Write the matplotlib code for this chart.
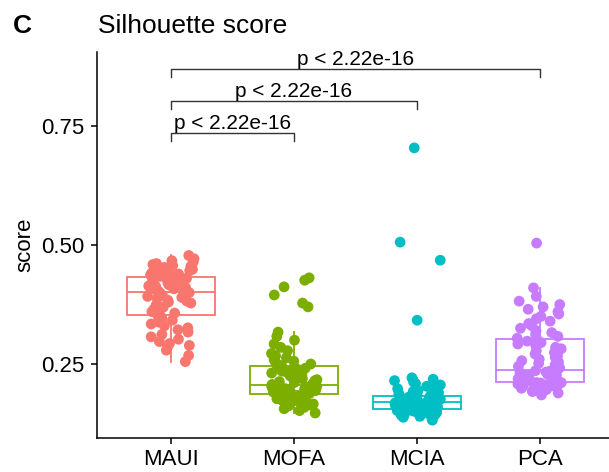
import numpy as np
import matplotlib
matplotlib.use("Agg")
import matplotlib.pyplot as plt

plt.rcParams['font.family'] = ['Liberation Sans', 'DejaVu Sans']

# groups and colours (ggplot default hue palette)
methods = ['MAUI', 'MOFA', 'MCIA', 'PCA']
colors = ['#F8766D', '#7CAE00', '#00BFC4', '#C77CFF']

# silhouette scores
maui = [0.255, 0.268, 0.279, 0.285, 0.289, 0.293, 0.297, 0.302, 0.307, 0.312,
        0.317, 0.322, 0.326, 0.330, 0.334, 0.338, 0.342, 0.345, 0.348, 0.351,
        0.354, 0.357, 0.360, 0.363, 0.366, 0.369, 0.372, 0.375, 0.378, 0.380,
        0.382, 0.384, 0.386, 0.388, 0.390, 0.392, 0.394, 0.396, 0.398, 0.400,
        0.402, 0.404, 0.405, 0.407, 0.408, 0.410, 0.411, 0.413, 0.414, 0.416,
        0.417, 0.419, 0.420, 0.422, 0.423, 0.425, 0.426, 0.428, 0.430, 0.432,
        0.434, 0.436, 0.437, 0.439, 0.441, 0.442, 0.444, 0.446, 0.447, 0.449,
        0.451, 0.453, 0.455, 0.457, 0.459, 0.461, 0.464, 0.467, 0.471, 0.478]
mofa = [0.147, 0.152, 0.156, 0.159, 0.162, 0.164, 0.166, 0.168, 0.170, 0.172,
        0.174, 0.175, 0.177, 0.178, 0.180, 0.181, 0.182, 0.184, 0.185, 0.186,
        0.188, 0.189, 0.190, 0.191, 0.192, 0.193, 0.194, 0.195, 0.196, 0.197,
        0.198, 0.199, 0.200, 0.201, 0.201, 0.202, 0.203, 0.204, 0.204, 0.205,
        0.207, 0.209, 0.211, 0.213, 0.215, 0.217, 0.219, 0.221, 0.223, 0.225,
        0.227, 0.229, 0.231, 0.233, 0.235, 0.237, 0.239, 0.241, 0.243, 0.245,
        0.247, 0.250, 0.253, 0.256, 0.259, 0.263, 0.267, 0.272, 0.278, 0.285,
        0.292, 0.300, 0.308, 0.317, 0.370, 0.378, 0.395, 0.412, 0.426, 0.431]
mcia = [0.132, 0.135, 0.138, 0.140, 0.142, 0.143, 0.144, 0.145, 0.146, 0.147,
        0.148, 0.149, 0.150, 0.151, 0.151, 0.152, 0.153, 0.153, 0.154, 0.154,
        0.156, 0.156, 0.157, 0.158, 0.159, 0.159, 0.160, 0.161, 0.162, 0.162,
        0.163, 0.164, 0.165, 0.165, 0.166, 0.167, 0.167, 0.168, 0.169, 0.169,
        0.171, 0.171, 0.172, 0.173, 0.173, 0.174, 0.175, 0.175, 0.176, 0.177,
        0.177, 0.178, 0.179, 0.179, 0.180, 0.180, 0.181, 0.181, 0.182, 0.182,
        0.184, 0.186, 0.188, 0.190, 0.192, 0.194, 0.196, 0.198, 0.200, 0.203,
        0.206, 0.209, 0.212, 0.215, 0.218, 0.221, 0.342, 0.468, 0.506, 0.704]
pca = [0.185, 0.189, 0.192, 0.194, 0.196, 0.198, 0.199, 0.200, 0.201, 0.202,
       0.203, 0.204, 0.205, 0.206, 0.207, 0.208, 0.209, 0.210, 0.211, 0.211,
       0.213, 0.214, 0.215, 0.216, 0.217, 0.218, 0.219, 0.220, 0.221, 0.222,
       0.224, 0.225, 0.226, 0.228, 0.229, 0.230, 0.232, 0.233, 0.235, 0.236,
       0.239, 0.242, 0.245, 0.248, 0.251, 0.254, 0.257, 0.260, 0.264, 0.267,
       0.271, 0.274, 0.278, 0.282, 0.285, 0.289, 0.292, 0.295, 0.298, 0.301,
       0.304, 0.308, 0.312, 0.316, 0.320, 0.325, 0.330, 0.335, 0.340, 0.345,
       0.350, 0.355, 0.360, 0.365, 0.370, 0.375, 0.382, 0.392, 0.410, 0.504]
scores = [maui, mofa, mcia, pca]

# pairwise comparisons (group indices) and their labels
comparisons = [(0, 1), (0, 2), (0, 3)]
bracket_y = [0.735, 0.802, 0.870]
p_labels = ['p < 2.22e-16', 'p < 2.22e-16', 'p < 2.22e-16']

W, H = 609, 472
fig = plt.figure(figsize=(W / 100, H / 100), dpi=100)
ax = fig.add_axes([97 / W, 34 / H, 517 / W, 386 / H])

pos = np.arange(1, len(methods) + 1)
for i, (vals, col) in enumerate(zip(scores, colors)):
    bp = ax.boxplot(vals, positions=[pos[i]], widths=0.72, showfliers=False,
                    patch_artist=True, manage_ticks=False)
    for b in bp['boxes']:
        b.set(facecolor='white', edgecolor=col, linewidth=1.3)
    for k in ('whiskers', 'medians'):
        for ln in bp[k]:
            ln.set(color=col, linewidth=1.3)
    for ln in bp['caps']:
        ln.set_visible(False)
    # deterministic jitter (hash of the index), like geom_jitter(width = 0.2)
    idx = np.arange(len(vals)) + 100 * i
    off = ((np.sin(idx * 12.9898 + 1.7) * 43758.5453) % 1 - 0.5) * 0.38
    ax.scatter(pos[i] + off, vals, s=60, color=col, edgecolors='none', zorder=3)

# significance brackets
for (a, b), y, lab in zip(comparisons, bracket_y, p_labels):
    xa, xb = pos[a], pos[b]
    ax.plot([xa, xa, xb, xb], [y - 0.017, y, y, y - 0.017], color='#333333',
            lw=1.0, zorder=4)
    ax.text((xa + xb) / 2, y + 0.008, lab, ha='center', va='baseline',
            fontsize=15, color='black')

ax.set_xlim(0.4, 4.6)
ax.set_ylim(0.0945, 0.9055)
ax.set_xticks(pos)
ax.set_xticklabels(methods)
ax.set_yticks([0.25, 0.50, 0.75])
ax.set_yticklabels(['0.25', '0.50', '0.75'])
ax.tick_params(axis='both', labelsize=16, colors='black', width=1.1, length=4)
ax.tick_params(axis='y', pad=5)
ax.tick_params(axis='x', pad=4)
for s in ('top', 'right'):
    ax.spines[s].set_visible(False)
for s in ('left', 'bottom'):
    ax.spines[s].set_linewidth(1.1)
    ax.spines[s].set_color('black')

fig.text(25 / W, 1 - 245 / H, 'score', rotation=90, ha='center', va='center',
         fontsize=16)
fig.text(98 / W, 1 - 33 / H, 'Silhouette score', ha='left', va='baseline',
         fontsize=19)
fig.text(13 / W, 1 - 33 / H, 'C', ha='left', va='baseline', fontsize=19,
         fontweight='bold')

fig.savefig('out.png', dpi=100)
